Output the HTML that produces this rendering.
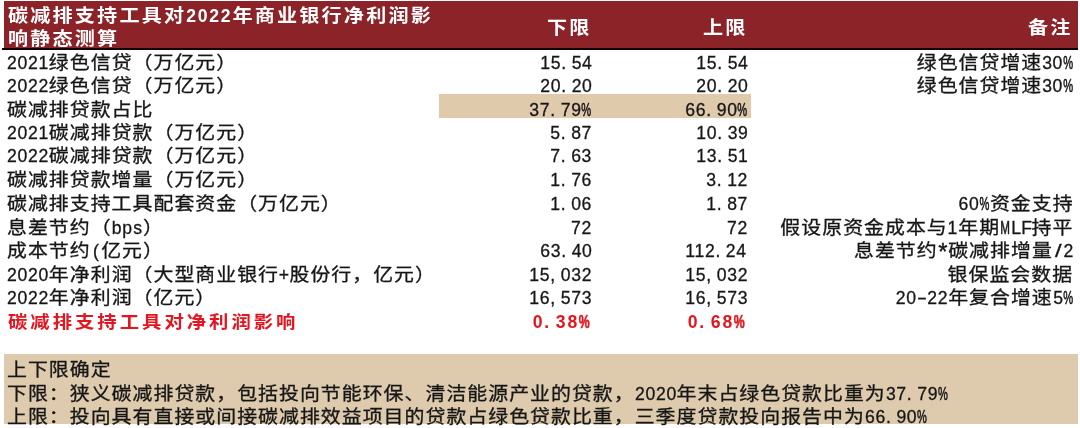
<!DOCTYPE html>
<html lang="zh-CN"><head><meta charset="utf-8"><title>碳减排支持工具对2022年商业银行净利润影响静态测算</title>
<style>
*{margin:0;padding:0;box-sizing:border-box}
html,body{width:1080px;height:428px;overflow:hidden;background:#fff}
body{position:relative;font-family:"Liberation Sans","Noto Sans CJK SC",sans-serif;color:#161616;
 font-size:18.1px;letter-spacing:0.927px;-webkit-text-stroke:0.3px}
div{position:absolute;white-space:nowrap;line-height:24px;height:24px}
.t{transform:scaleX(1.1);transform-origin:0 0}
.t.r{transform-origin:100% 0}
i{font-style:normal;display:inline-block;text-align:left}
.n{display:inline-block;text-align:left;transform:scaleX(0.9091);transform-origin:0 50%;font-size:17.6px;letter-spacing:0.681px}
.n .p{width:10.470px;letter-spacing:0}
.n .x{width:10.470px;letter-spacing:0;text-align:center}
.n .d{transform:scaleX(1.7)}
.n .s{transform:scaleX(1.35)}
.n .c,.n .m{-webkit-text-stroke:0.55px}
.n .a{transform:scale(1.35);transform-origin:50% 35%}
.n .c{width:10.470px;letter-spacing:0;transform:scaleX(0.631);transform-origin:0 50%}
.n .m{width:10.470px;letter-spacing:0;transform:scaleX(0.660);transform-origin:0 50%}
.b{-webkit-text-stroke:0;font-weight:bold;font-size:18.3px;letter-spacing:1.973px}
.b .n{font-size:17.6px;letter-spacing:1.761px}
.b .n .p{width:11.550px}
.b .n .c{width:11.550px;transform:scaleX(0.700)}
.r{text-align:right}
#hd{left:3.5px;top:1.4px;width:1074.5px;height:46.4px;background:#8b2328}
#ln{left:2.1px;top:47.5px;width:1076.1px;height:2.1px;background:#120406}
.w{color:#fff}
.ttl{height:auto;line-height:22.8px}
#band{left:439.2px;top:94.2px;width:311.6px;height:23.4px;background:#dfcaac}
#ft{left:3.8px;top:354.1px;width:1074.7px;height:70.1px;background:#decbad}
.red{color:#e6141e}
</style></head>
<body>
<main role="table">
<header role="row">
<div id="hd"></div>
<div id="ln"></div>
<div class="t w b ttl" style="left:7.60px;top:4.75px">碳减排支持工具对<span class="n" style="width:42.00px">2022</span>年商业银行净利润影<br>响静态测算</div>
<div class="t w b r" style="right:488.20px;top:15.50px">下限</div>
<div class="t w b r" style="right:332.20px;top:15.50px">上限</div>
<div class="t w b r" style="right:7.10px;top:15.50px">备注</div>
</header>
<section role="row">
<div class="t" style="left:6.80px;top:51.40px"><span class="n" style="width:38.07px">2021</span>绿色信贷（万亿元）</div>
<div class="t r" style="right:487.90px;top:51.40px"><span class="n" style="width:47.59px">15<i class="p">.</i>54</span></div>
<div class="t r" style="right:331.90px;top:51.40px"><span class="n" style="width:47.59px">15<i class="p">.</i>54</span></div>
<div class="t r" style="right:6.60px;top:51.40px">绿色信贷增速<span class="n" style="width:28.55px">30<i class="c">%</i></span></div>
</section>
<section role="row">
<div class="t" style="left:6.80px;top:74.15px"><span class="n" style="width:38.07px">2022</span>绿色信贷（万亿元）</div>
<div class="t r" style="right:487.90px;top:74.15px"><span class="n" style="width:47.59px">20<i class="p">.</i>20</span></div>
<div class="t r" style="right:331.90px;top:74.15px"><span class="n" style="width:47.59px">20<i class="p">.</i>20</span></div>
<div class="t r" style="right:6.60px;top:74.15px">绿色信贷增速<span class="n" style="width:28.55px">30<i class="c">%</i></span></div>
</section>
<section role="row">
<div id="band"></div>
<div class="t" style="left:6.80px;top:98.05px">碳减排贷款占比</div>
<div class="t r" style="right:487.90px;top:98.05px"><span class="n" style="width:57.11px">37<i class="p">.</i>79<i class="c">%</i></span></div>
<div class="t r" style="right:331.90px;top:98.05px"><span class="n" style="width:57.11px">66<i class="p">.</i>90<i class="c">%</i></span></div>
</section>
<section role="row">
<div class="t" style="left:6.80px;top:120.90px"><span class="n" style="width:38.07px">2021</span>碳减排贷款（万亿元）</div>
<div class="t r" style="right:487.90px;top:120.90px"><span class="n" style="width:38.07px">5<i class="p">.</i>87</span></div>
<div class="t r" style="right:331.90px;top:120.90px"><span class="n" style="width:47.59px">10<i class="p">.</i>39</span></div>
</section>
<section role="row">
<div class="t" style="left:6.80px;top:143.90px"><span class="n" style="width:38.07px">2022</span>碳减排贷款（万亿元）</div>
<div class="t r" style="right:487.90px;top:143.90px"><span class="n" style="width:38.07px">7<i class="p">.</i>63</span></div>
<div class="t r" style="right:331.90px;top:143.90px"><span class="n" style="width:47.59px">13<i class="p">.</i>51</span></div>
</section>
<section role="row">
<div class="t" style="left:6.80px;top:167.80px">碳减排贷款增量（万亿元）</div>
<div class="t r" style="right:487.90px;top:167.80px"><span class="n" style="width:38.07px">1<i class="p">.</i>76</span></div>
<div class="t r" style="right:331.90px;top:167.80px"><span class="n" style="width:38.07px">3<i class="p">.</i>12</span></div>
</section>
<section role="row">
<div class="t" style="left:6.80px;top:191.70px">碳减排支持工具配套资金（万亿元）</div>
<div class="t r" style="right:487.90px;top:191.70px"><span class="n" style="width:38.07px">1<i class="p">.</i>06</span></div>
<div class="t r" style="right:331.90px;top:191.70px"><span class="n" style="width:38.07px">1<i class="p">.</i>87</span></div>
<div class="t r" style="right:6.60px;top:191.70px"><span class="n" style="width:28.55px">60<i class="c">%</i></span>资金支持</div>
</section>
<section role="row">
<div class="t" style="left:6.80px;top:215.90px">息差节约（<span class="n" style="width:28.55px"><i class="x">b</i><i class="x">p</i><i class="x">s</i></span>）</div>
<div class="t r" style="right:487.90px;top:215.90px"><span class="n" style="width:19.04px">72</span></div>
<div class="t r" style="right:331.90px;top:215.90px"><span class="n" style="width:19.04px">72</span></div>
<div class="t r" style="right:6.60px;top:215.90px">假设原资金成本与<span class="n" style="width:9.52px">1</span>年期<span class="n" style="width:28.55px"><i class="m">M</i><i class="x">L</i><i class="x">F</i></span>持平</div>
</section>
<section role="row">
<div class="t" style="left:6.80px;top:239.30px">成本节约<span class="n" style="width:9.52px"><i class="x">(</i></span>亿元）</div>
<div class="t r" style="right:487.90px;top:239.30px"><span class="n" style="width:47.59px">63<i class="p">.</i>40</span></div>
<div class="t r" style="right:331.90px;top:239.30px"><span class="n" style="width:57.11px">112<i class="p">.</i>24</span></div>
<div class="t r" style="right:6.60px;top:239.30px">息差节约<span class="n" style="width:9.52px"><i class="x a">*</i></span>碳减排增量<span class="n" style="width:19.04px"><i class="x s">/</i>2</span></div>
</section>
<section role="row">
<div class="t" style="left:6.80px;top:263.00px"><span class="n" style="width:38.07px">2020</span>年净利润（大型商业银行<span class="n" style="width:9.52px"><i class="x">+</i></span>股份行，亿元）</div>
<div class="t r" style="right:487.90px;top:263.00px"><span class="n" style="width:57.11px">15<i class="p">,</i>032</span></div>
<div class="t r" style="right:331.90px;top:263.00px"><span class="n" style="width:57.11px">15<i class="p">,</i>032</span></div>
<div class="t r" style="right:6.60px;top:263.00px">银保监会数据</div>
</section>
<section role="row">
<div class="t" style="left:6.80px;top:286.30px"><span class="n" style="width:38.07px">2022</span>年净利润（亿元）</div>
<div class="t r" style="right:487.90px;top:286.30px"><span class="n" style="width:57.11px">16<i class="p">,</i>573</span></div>
<div class="t r" style="right:331.90px;top:286.30px"><span class="n" style="width:57.11px">16<i class="p">,</i>573</span></div>
<div class="t r" style="right:6.60px;top:286.30px"><span class="n" style="width:47.59px">20<i class="x d">-</i>22</span>年复合增速<span class="n" style="width:19.04px">5<i class="c">%</i></span></div>
</section>
<section role="row">
<div class="t red b" style="left:8.10px;top:309.80px;font-size:17.6px;letter-spacing:2.718px">碳减排支持工具对净利润影响</div>
<div class="t red b r" style="right:490.00px;top:309.80px"><span class="n" style="width:52.50px">0<i class="p">.</i>38<i class="c">%</i></span></div>
<div class="t red b r" style="right:334.20px;top:309.80px"><span class="n" style="width:52.50px">0<i class="p">.</i>68<i class="c">%</i></span></div>
</section>
<footer>
<div id="ft"></div>
<div class="t" style="left:6.80px;top:358.10px">上下限确定</div>
<div class="t" style="left:6.80px;top:381.90px">下限：狭义碳减排贷款，包括投向节能环保、清洁能源产业的贷款，<span class="n" style="width:38.07px">2020</span>年末占绿色贷款比重为<span class="n" style="width:57.11px">37<i class="p">.</i>79<i class="c">%</i></span></div>
<div class="t" style="left:6.80px;top:405.30px">上限：投向具有直接或间接碳减排效益项目的贷款占绿色贷款比重，三季度贷款投向报告中为<span class="n" style="width:57.11px">66<i class="p">.</i>90<i class="c">%</i></span></div>
</footer>
</main>
</body></html>
